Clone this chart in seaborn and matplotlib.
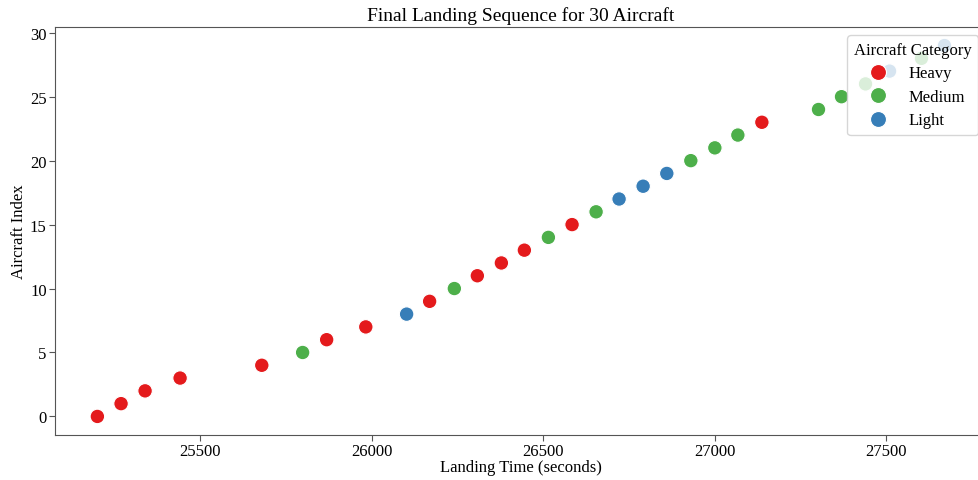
import pandas as pd
import matplotlib.pyplot as plt
import seaborn as sns

# landing times (seconds)
landing_times = [25201, 25270, 25340, 25442, 25680, 25799, 25869, 25983, 26102, 26169,
                 26241, 26308, 26378, 26445, 26515, 26584, 26654, 26721, 26791, 26860,
                 26930, 27000, 27067, 27137, 27302, 27369, 27439, 27509, 27602, 27669]
categories = ['Heavy', 'Heavy', 'Heavy', 'Heavy', 'Heavy', 'Medium', 'Heavy', 'Heavy', 'Light', 'Heavy',
              'Medium', 'Heavy', 'Heavy', 'Heavy', 'Medium', 'Heavy', 'Medium', 'Light', 'Light', 'Light',
              'Medium', 'Medium', 'Medium', 'Heavy', 'Medium', 'Medium', 'Medium', 'Light', 'Medium', 'Light']
category_order = ['Heavy', 'Medium', 'Light']
category_colors = {'Heavy': '#e41a1c', 'Medium': '#4daf4a', 'Light': '#377eb8'}

df = pd.DataFrame({
    'Landing Time': landing_times,
    'Aircraft Index': list(range(len(landing_times))),
    'Category': categories,
})

sns.set_style('ticks')
plt.rcParams['font.family'] = ['Liberation Serif', 'DejaVu Serif']
plt.rcParams['text.color'] = 'black'
plt.rcParams['axes.labelcolor'] = 'black'
plt.rcParams['xtick.labelcolor'] = 'black'
plt.rcParams['ytick.labelcolor'] = 'black'

fig, ax = plt.subplots(figsize=(9.79, 4.81), dpi=100)
fig.subplots_adjust(left=0.0562, right=1.008, bottom=0.0936, top=0.9418)

sns.scatterplot(data=df, x='Landing Time', y='Aircraft Index', hue='Category',
                hue_order=category_order, palette=category_colors, s=110, ax=ax)

ax.set_title('Final Landing Sequence for 30 Aircraft', fontsize=14, pad=5)
ax.set_xlabel('Landing Time (seconds)', fontsize=12, labelpad=0)
ax.set_ylabel('Aircraft Index', fontsize=12, labelpad=2)
ax.tick_params(labelsize=12, length=4, pad=2, color='#555555')
for sp in ax.spines.values():
    sp.set_color('#555555')

ax.legend(title='Aircraft Category', loc='upper right', fontsize=12, title_fontsize=12,
          labelspacing=0.45, markerscale=1.1)

plt.savefig('out.png', dpi=100)
